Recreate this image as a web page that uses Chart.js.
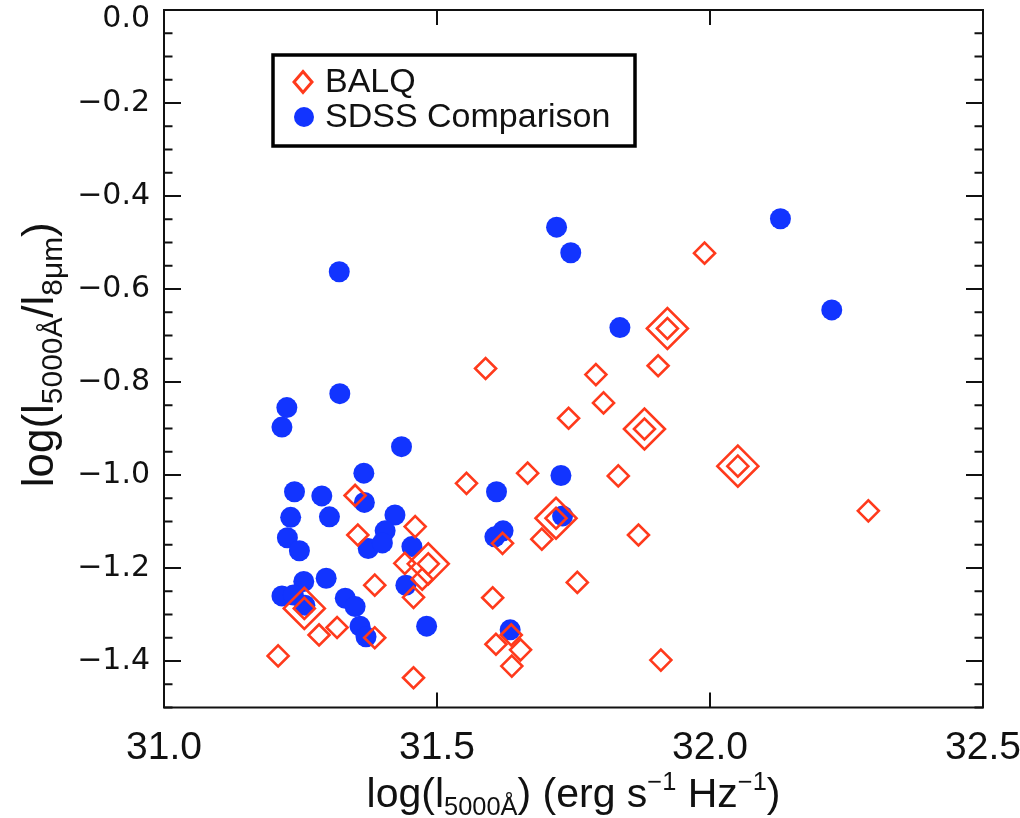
<!DOCTYPE html>
<html>
<head>
<meta charset="utf-8">
<title>BALQ vs SDSS comparison</title>
<script src="https://cdn.jsdelivr.net/npm/chart.js@4.4.1/dist/chart.umd.min.js"></script>
<style>
  body { margin: 0; background: #fff; }
  canvas { display: block; }
</style>
</head>
<body>
<canvas id="chartCanvas" width="1020" height="818"></canvas>
<script>
'use strict';

// BALQ sample, open diamonds
const balqX = [31.209, 31.257, 31.284, 31.317, 31.350, 31.355, 31.386, 31.386, 31.441, 31.460,
    31.484, 31.473, 31.457, 31.457, 31.554, 31.589, 31.602, 31.608, 31.620, 31.636,
    31.637, 31.653, 31.666, 31.692, 31.718, 31.741, 31.757, 31.791, 31.805, 31.832,
    31.869, 31.880, 31.905, 31.910, 31.922, 31.990, 32.051, 32.290];
const balqY = [-1.389, -1.287, -1.344, -1.328, -1.044, -1.129, -1.237, -1.350, -1.190, -1.111,
    -1.191, -1.224, -1.263, -1.436, -1.018, -0.771, -1.264, -1.364, -1.147, -1.344,
    -1.411, -1.376, -0.996, -1.138, -1.093, -0.878, -1.231, -0.784, -0.845, -1.002,
    -1.129, -0.901, -0.765, -1.398, -0.685, -0.523, -0.981, -1.077];

// the BALQs that get a second, bigger diamond around them
const bigX = [31.257, 31.484, 31.718, 31.880, 31.922, 32.051];
const bigY = [-1.287, -1.191, -1.093, -0.901, -0.685, -0.981];

// SDSS comparison quasars, filled circles
const sdssX = [31.321, 31.322, 31.225, 31.216, 31.435, 31.366, 31.239, 31.289, 31.367, 31.232,
    31.303, 31.423, 31.405, 31.226, 31.248, 31.374, 31.400, 31.454, 31.256, 31.297,
    31.216, 31.237, 31.258, 31.332, 31.350, 31.359, 31.370, 31.443, 31.481, 31.609,
    31.727, 31.621, 31.606, 31.730, 31.634, 31.719, 31.745, 32.129, 32.223, 31.835];
const sdssY = [-0.563, -0.825, -0.855, -0.897, -0.939, -0.996, -1.036, -1.045, -1.059, -1.091,
    -1.090, -1.086, -1.120, -1.135, -1.163, -1.158, -1.146, -1.154, -1.229, -1.222,
    -1.260, -1.258, -1.280, -1.265, -1.283, -1.325, -1.348, -1.237, -1.325, -1.036,
    -1.001, -1.120, -1.133, -1.088, -1.333, -0.467, -0.522, -0.449, -0.645, -0.683];

const seriesNames = ['BALQ', 'SDSS Comparison'];
const xTickValues = [31.0, 31.5, 32.0, 32.5];
const yTickValues = [0.0, -0.2, -0.4, -0.6, -0.8, -1.0, -1.2, -1.4];

// axis titles, 0 = normal, -1 = subscript, 1 = superscript
const xTitle = [['log(l', 0], ['5000Å', -1], [') (erg s', 0], ['−1', 1], [' Hz', 0], ['−1', 1], [')', 0]];
const yTitle = [['log(l', 0], ['5000Å', -1], ['/l', 0], ['8μm', -1], [')', 0]];

const red = '#ff3a1c';
const blue = '#1234ff';

function toPoints(xs, ys) {
    const pts = [];
    for (let i = 0; i < xs.length; i++) {
        pts.push({x: xs[i], y: ys[i]});
    }
    return pts;
}

function fmt(v) {
    return (v < 0 ? '−' : '') + Math.abs(v).toFixed(1);
}

// draws text with sub/superscripts centred on cx
function drawRich(ctx, parts, cx, baseY, size, small) {
    const fam = '"Liberation Sans", Arial, sans-serif';
    let total = 0;
    for (let i = 0; i < parts.length; i++) {
        const s = parts[i][1] === 0 ? size : size * small;
        ctx.font = s + 'px ' + fam;
        total += ctx.measureText(parts[i][0]).width;
    }
    let x = cx - total / 2;
    ctx.textAlign = 'left';
    ctx.textBaseline = 'alphabetic';
    for (let i = 0; i < parts.length; i++) {
        const kind = parts[i][1];
        const s = kind === 0 ? size : size * small;
        ctx.font = s + 'px ' + fam;
        let y = baseY;
        if (kind === -1) y += size * 0.2;
        if (kind === 1) y -= size * 0.42;
        ctx.fillText(parts[i][0], x, y);
        x += ctx.measureText(parts[i][0]).width;
    }
}

// frame, inward ticks, y labels, titles and the boxed legend
const decorations = {
    id: 'decorations',
    beforeDatasetsDraw(chart) {
        const ctx = chart.ctx;
        const area = chart.chartArea;
        const xs = chart.scales.x;
        const ys = chart.scales.y;
        ctx.save();
        ctx.strokeStyle = '#111';
        ctx.lineWidth = 2;
        ctx.strokeRect(area.left, area.top, area.right - area.left, area.bottom - area.top);
        ctx.beginPath();
        for (let i = 0; i <= 30; i++) {
            const v = -i * 0.05;
            const py = ys.getPixelForValue(v);
            const len = (i % 4 === 0) ? 17 : 8.5;
            ctx.moveTo(area.left, py);
            ctx.lineTo(area.left + len, py);
            ctx.moveTo(area.right, py);
            ctx.lineTo(area.right - len, py);
        }
        for (let i = 0; i < xTickValues.length; i++) {
            const px = xs.getPixelForValue(xTickValues[i]);
            ctx.moveTo(px, area.bottom);
            ctx.lineTo(px, area.bottom - 15);
            ctx.moveTo(px, area.top);
            ctx.lineTo(px, area.top + 15);
        }
        ctx.stroke();

        // y tick labels; the top one is pushed down so it stays on the page
        ctx.fillStyle = '#111';
        ctx.font = '30px "DejaVu Sans", sans-serif';
        ctx.textAlign = 'right';
        ctx.textBaseline = 'middle';
        for (let i = 0; i < yTickValues.length; i++) {
            const py = Math.max(ys.getPixelForValue(yTickValues[i]), 19);
            ctx.fillText(fmt(yTickValues[i]), area.left - 14, py);
        }
        ctx.restore();
    },
    afterDraw(chart) {
        const ctx = chart.ctx;
        const area = chart.chartArea;
        ctx.save();
        ctx.fillStyle = '#111';
        drawRich(ctx, xTitle, (area.left + area.right) / 2, 807, 41, 0.62);
        ctx.translate(53, (area.top + area.bottom) / 2 - 4);
        ctx.rotate(-Math.PI / 2);
        drawRich(ctx, yTitle, 0, 0, 44, 0.68);
        ctx.restore();

        // legend box
        ctx.save();
        ctx.fillStyle = '#fff';
        ctx.fillRect(273, 55, 362, 91);
        ctx.strokeStyle = '#000';
        ctx.lineWidth = 3.5;
        ctx.strokeRect(273, 55, 362, 91);
        ctx.strokeStyle = red;
        ctx.lineWidth = 3;
        ctx.beginPath();
        ctx.moveTo(303, 71.5);
        ctx.lineTo(312, 82);
        ctx.lineTo(303, 92.5);
        ctx.lineTo(294, 82);
        ctx.closePath();
        ctx.stroke();
        ctx.fillStyle = blue;
        ctx.beginPath();
        ctx.arc(304, 117, 10, 0, Math.PI * 2);
        ctx.fill();
        ctx.fillStyle = '#111';
        ctx.font = '34px "Liberation Sans", Arial, sans-serif';
        ctx.textAlign = 'left';
        ctx.textBaseline = 'middle';
        ctx.fillText(seriesNames[0], 325, 83);
        ctx.fillText(seriesNames[1], 325, 118);
        ctx.restore();
    }
};

const chart = new Chart(document.getElementById('chartCanvas'), {
    type: 'scatter',
    data: {
        datasets: [
            {
                label: seriesNames[0],
                data: toPoints(balqX, balqY),
                pointStyle: 'rectRot',
                pointRadius: 10.5,
                borderColor: red,
                backgroundColor: 'rgba(0,0,0,0)',
                borderWidth: 2.6
            },
            {
                label: seriesNames[0] + ' (large)',
                data: toPoints(bigX, bigY),
                pointStyle: 'rectRot',
                pointRadius: 20.5,
                borderColor: red,
                backgroundColor: 'rgba(0,0,0,0)',
                borderWidth: 2.6
            },
            {
                label: seriesNames[1],
                data: toPoints(sdssX, sdssY),
                pointStyle: 'circle',
                pointRadius: 10.5,
                backgroundColor: blue,
                borderColor: blue,
                borderWidth: 0
            }
        ]
    },
    options: {
        responsive: false,
        animation: false,
        events: [],
        layout: {autoPadding: false, padding: {top: 10, right: 37, left: 0, bottom: 0}},
        plugins: {
            legend: {display: false},
            tooltip: {enabled: false}
        },
        scales: {
            x: {
                type: 'linear',
                min: 31.0,
                max: 32.5,
                afterBuildTicks: (s) => { s.ticks = xTickValues.map(v => ({value: v})); },
                afterFit: (s) => { s.height = 110.5; s.paddingLeft = 0; s.paddingRight = 0; },
                grid: {display: false, drawTicks: false},
                border: {display: false},
                ticks: {
                    color: '#111',
                    padding: 17,
                    maxRotation: 0,
                    font: {family: '"Liberation Sans", Arial, sans-serif', size: 39},
                    callback: (v) => fmt(v)
                }
            },
            y: {
                type: 'linear',
                min: -1.5,
                max: 0.0,
                afterBuildTicks: (s) => { s.ticks = yTickValues.map(v => ({value: v})); },
                afterFit: (s) => { s.width = 164; s.paddingTop = 0; s.paddingBottom = 0; },
                grid: {display: false, drawTicks: false},
                border: {display: false},
                ticks: {display: false}
            }
        }
    },
    plugins: [decorations]
});
</script>
</body>
</html>
